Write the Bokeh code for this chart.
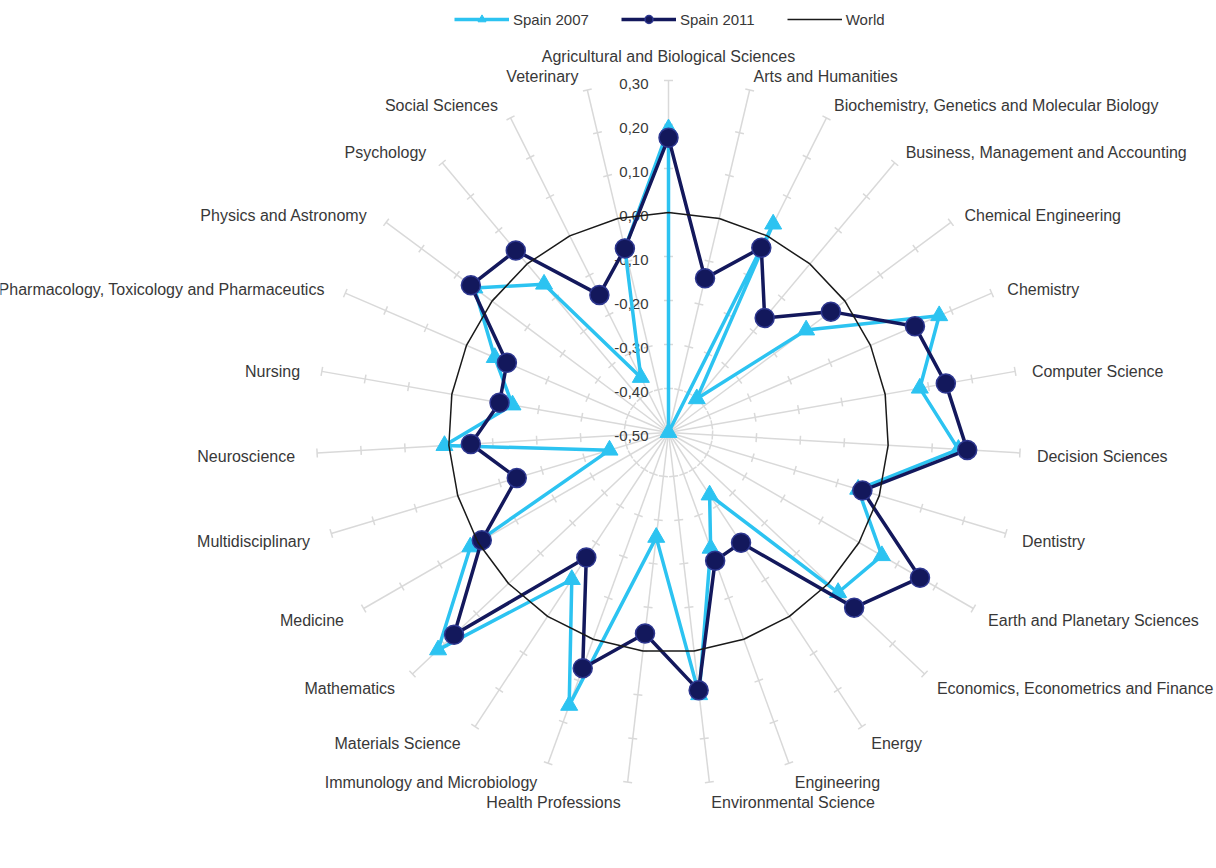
import math
from bokeh.plotting import figure
from bokeh.models import ColumnDataSource, Legend, LegendItem, Range1d
from bokeh.core.properties import value
from bokeh.embed import file_html
from bokeh.resources import INLINE

# ---------------- data ----------------
categories = [
    "Agricultural and Biological Sciences", "Arts and Humanities",
    "Biochemistry, Genetics and Molecular Biology", "Business, Management and Accounting",
    "Chemical Engineering", "Chemistry", "Computer Science", "Decision Sciences",
    "Dentistry", "Earth and Planetary Sciences", "Economics, Econometrics and Finance",
    "Energy", "Engineering", "Environmental Science", "Health Professions",
    "Immunology and Microbiology", "Materials Science", "Mathematics", "Medicine",
    "Multidisciplinary", "Neuroscience", "Nursing",
    "Pharmacology, Toxicology and Pharmaceutics", "Physics and Astronomy",
    "Psychology", "Social Sciences", "Veterinary",
]
spain_2007 = [0.19, -0.50, 0.03, -0.40, -0.11, 0.17, 0.08, 0.16, -0.05, 0.06,
              0.03, -0.33, -0.22, 0.10, -0.26, 0.16, -0.10, 0.22, 0.02, -0.36,
              0.01, -0.14, -0.07, 0.05, -0.06, -0.36, -0.07]
spain_2011 = [0.17, -0.14, -0.03, -0.16, -0.04, 0.11, 0.14, 0.18, -0.04, 0.16,
              0.08, -0.20, -0.19, 0.09, -0.04, 0.07, -0.16, 0.17, -0.01, -0.14,
              -0.05, -0.11, -0.10, 0.06, 0.04, -0.15, -0.07]
world = [0.0, 0.0, 0.0, 0.0, 0.0, 0.0, 0.0, 0.0, 0.0, 0.0, 0.0, 0.0, 0.0, 0.0,
         0.0, 0.0, 0.0, 0.0, 0.0, 0.0, 0.0, 0.0, 0.0, 0.0, 0.0, 0.0, 0.0]
tick_values = [0.30, 0.20, 0.10, 0.00, -0.10, -0.20, -0.30, -0.40, -0.50]
tick_labels = ["0,30", "0,20", "0,10", "0,00", "-0,10", "-0,20", "-0,30", "-0,40", "-0,50"]

# ---------------- styling / layout ----------------
R_MIN, R_MAX = -0.50, 0.30
PX = 440.0                 # pixels per value unit
W, H = 1216, 852
CX, CY = 668, 432          # radar centre inside frame (px from left / top)
LIGHT = "#2cc3f1"
NAVY = "#13185c"
NAVY_EDGE = "#2e3790"
GRID = "#d9d9d9"
TXT = "#383838"
FONT = "Liberation Sans"
FS = "15px"
FS_CAT = "16px"

n = len(categories)
theta = [2 * math.pi * i / n for i in range(n)]


def polar(v, i):
    r = v - R_MIN
    return r * math.sin(theta[i]), r * math.cos(theta[i])


p = figure(width=W, height=H, output_backend="svg", toolbar_location=None,
           x_range=Range1d(-CX / PX, (W - CX) / PX),
           y_range=Range1d(-(H - CY) / PX, CY / PX),
           x_axis_type=None, y_axis_type=None, min_border=0)
p.grid.visible = False
p.outline_line_color = None
p.background_fill_color = "white"
p.border_fill_color = "white"

# spokes
ex = [polar(R_MAX, i)[0] for i in range(n)]
ey = [polar(R_MAX, i)[1] for i in range(n)]
p.segment(x0=[0.0] * n, y0=[0.0] * n, x1=ex, y1=ey, line_color=GRID, line_width=1.5)

# tick marks on every spoke
hl = 4.5 / PX
tx0, ty0, tx1, ty1 = [], [], [], []
for i in range(n):
    px_, py_ = math.cos(theta[i]), -math.sin(theta[i])
    for t in tick_values:
        if t <= R_MIN:
            continue
        x, y = polar(t, i)
        tx0.append(x - hl * px_); ty0.append(y - hl * py_)
        tx1.append(x + hl * px_); ty1.append(y + hl * py_)
p.segment(x0=tx0, y0=ty0, x1=tx1, y1=ty1, line_color=GRID, line_width=1.5)

# value axis labels (along the top spoke)
p.text(x=[0.0] * len(tick_values), y=[t - R_MIN for t in tick_values], text=tick_labels,
       x_offset=-20, y_offset=3, text_align="right", text_baseline="middle",
       text_font=value(FONT), text_font_size=FS, text_color=TXT)

# category labels
groups = {"left": dict(x=[], y=[], text=[], xo=[], yo=[]),
          "right": dict(x=[], y=[], text=[], xo=[], yo=[]),
          "center": dict(x=[], y=[], text=[], xo=[], yo=[])}
for i, c in enumerate(categories):
    s, co = math.sin(theta[i]), math.cos(theta[i])
    if abs(s) < 0.05:
        key = "center"
        xo, yo = 0.0, -16.0
    elif s > 0:
        key = "left"
        xo, yo = 17 * s, -17 * co + 3
    else:
        key = "right"
        xo, yo = 17 * s - 5, -17 * co + 3
    g = groups[key]
    g["x"].append(ex[i]); g["y"].append(ey[i]); g["text"].append(c)
    g["xo"].append(xo); g["yo"].append(yo)
for key, g in groups.items():
    if not g["x"]:
        continue
    src = ColumnDataSource(g)
    p.text(x="x", y="y", text="text", x_offset="xo", y_offset="yo", source=src,
           text_align=key, text_baseline="bottom" if key == "center" else "middle",
           text_font=value(FONT), text_font_size=FS_CAT, text_color=TXT)


def closed_xy(vals):
    xs = [polar(v, i)[0] for i, v in enumerate(vals)]
    ys = [polar(v, i)[1] for i, v in enumerate(vals)]
    return xs, ys


# Spain 2007
x7, y7 = closed_xy(spain_2007)
l7 = p.line(x7 + [x7[0]], y7 + [y7[0]], line_color=LIGHT, line_width=3.5, line_join="round")
m7 = p.scatter(x7, y7, marker="triangle", size=17, fill_color=LIGHT, line_color=LIGHT)

# Spain 2011
x11, y11 = closed_xy(spain_2011)
l11 = p.line(x11 + [x11[0]], y11 + [y11[0]], line_color=NAVY, line_width=3.5, line_join="round")
m11 = p.scatter(x11, y11, marker="circle", size=19, fill_color=NAVY, line_color=NAVY_EDGE,
                line_width=1.5)

# World
xw, yw = closed_xy(world)
lw = p.line(xw + [xw[0]], yw + [yw[0]], line_color="#1a1a1a", line_width=1.5)

legend = Legend(items=[LegendItem(label="Spain 2007", renderers=[l7, m7]),
                       LegendItem(label="Spain 2011", renderers=[l11, m11]),
                       LegendItem(label="World", renderers=[lw])],
                orientation="horizontal", location=(454, 823),
                glyph_width=55, glyph_height=20, label_standoff=4, spacing=32,
                padding=0, margin=0, border_line_color=None, background_fill_alpha=0,
                label_text_font=FONT, label_text_font_size=FS, label_text_color=TXT)
p.add_layout(legend, "center")

open("out.html", "w").write(file_html(p, INLINE))
